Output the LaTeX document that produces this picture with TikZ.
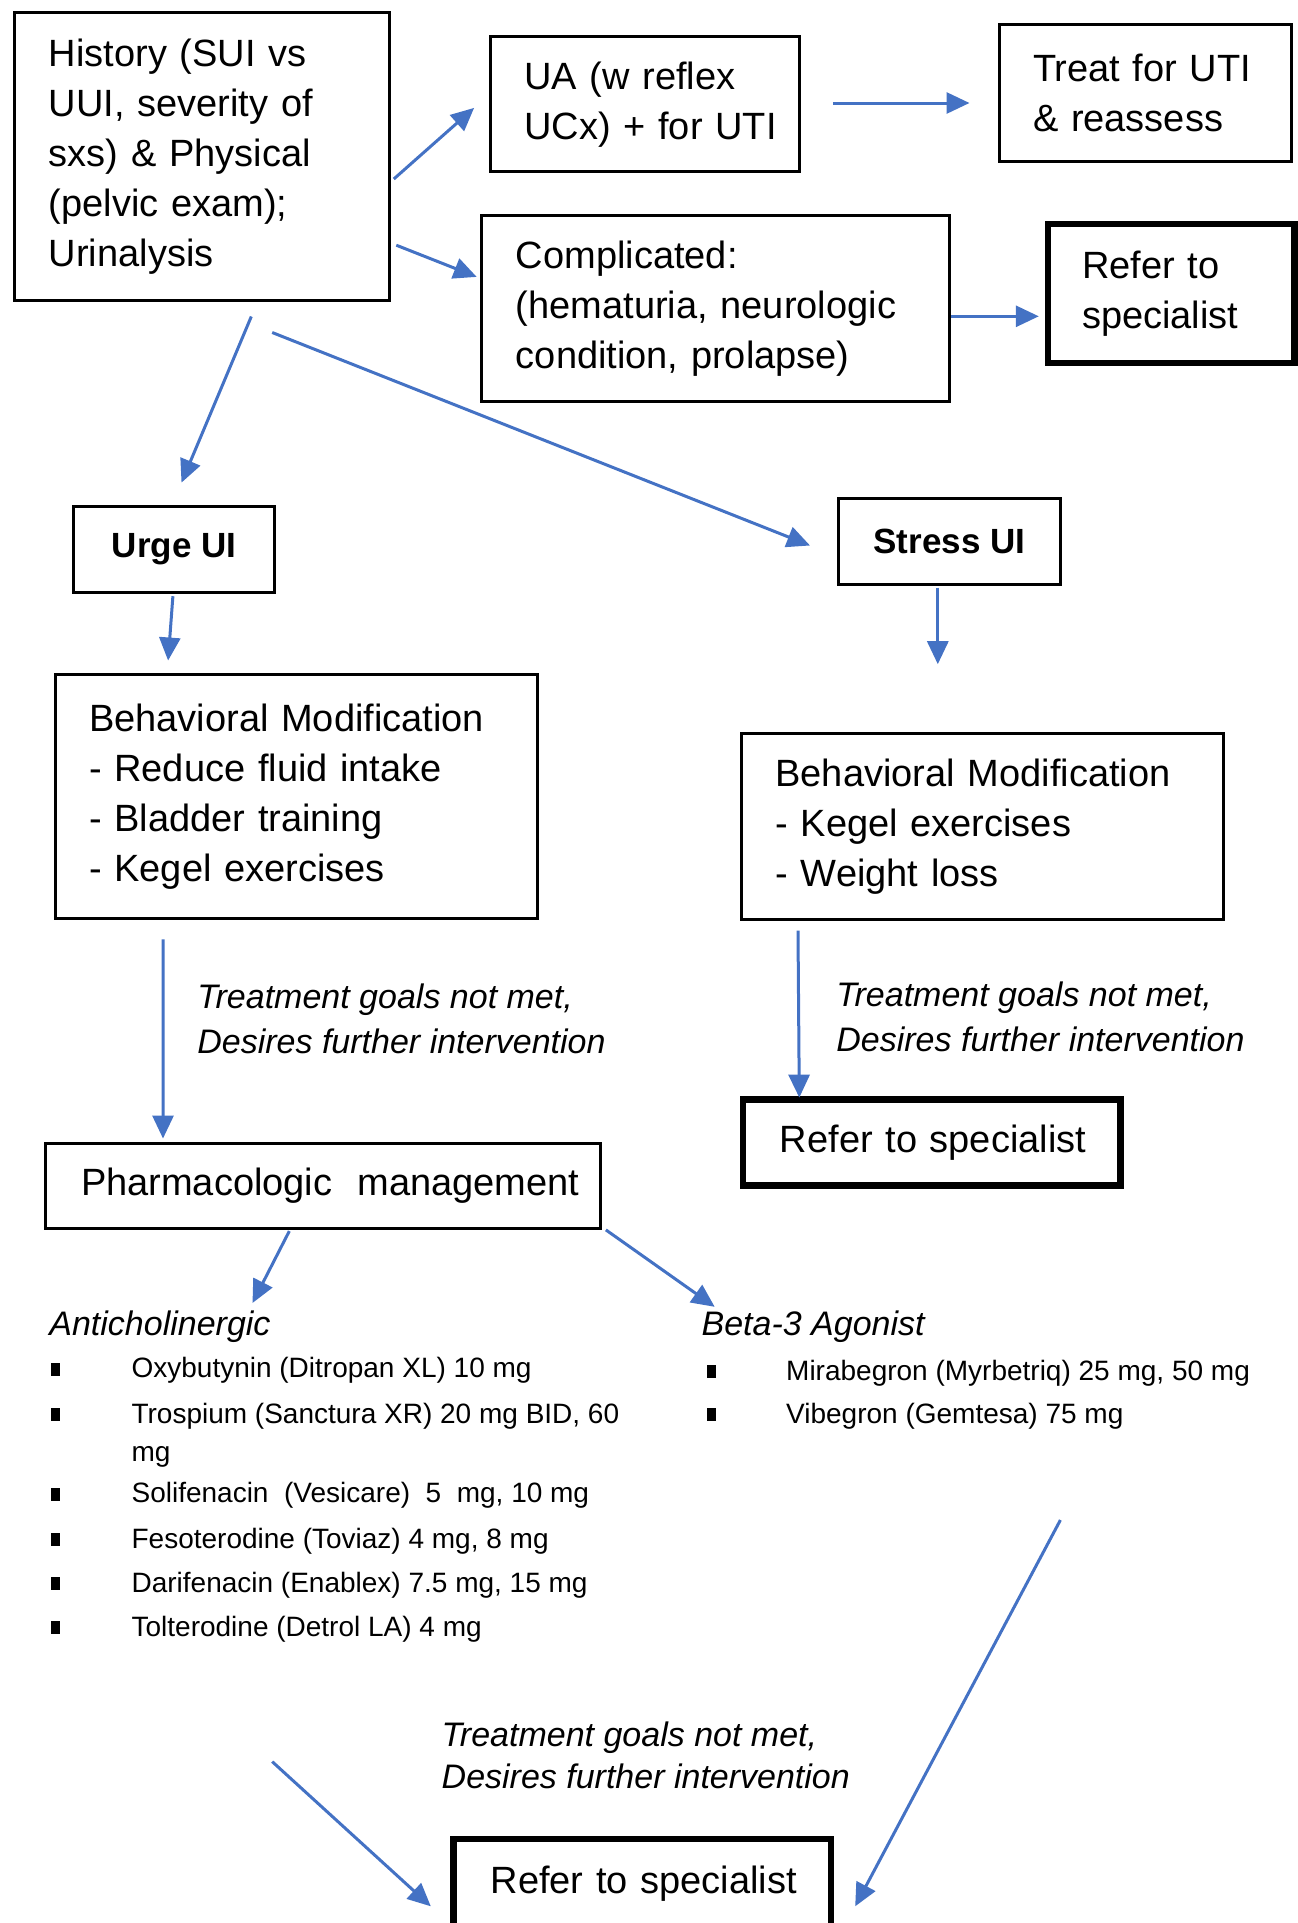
\documentclass[tikz,border=0pt]{standalone}
\usepackage{fontspec}
\setmainfont{Liberation Sans}
\usetikzlibrary{arrows.meta}
\definecolor{arrowblue}{RGB}{68,114,196}
\hyphenpenalty=10000
\exhyphenpenalty=10000
\hbadness=10000
\hfuzz=50pt
\begin{document}
\begin{tikzpicture}[x=0.5pt,y=-0.5pt,
  box/.style={draw, line width=1.5pt, rectangle, align=left, inner ysep=0pt, font=\fontsize{19}{25}\selectfont},
  thickbox/.style={box, line width=3.2pt},
  centerbox/.style={draw, line width=1.5pt, rectangle, align=center, inner sep=0pt, font=\fontsize{17.5}{21}\selectfont\bfseries},
  note/.style={align=left, anchor=west, inner sep=0pt, font=\fontsize{17}{22.5}\selectfont\itshape},
  head/.style={anchor=west, inner sep=0pt, font=\fontsize{17}{20}\selectfont\itshape},
  item/.style={anchor=west, inner sep=0pt, align=left, font=\fontsize{14}{19}\selectfont},
  bullet/.style={fill=black, minimum width=4.5pt, minimum height=6.5pt, inner sep=0pt},
  arr/.style={draw=arrowblue, line width=1.5pt, -{Triangle[length=11.5pt,width=10.5pt]}},
]
\useasboundingbox (0,0) rectangle (1297,1923);

% boxes
\node[box, minimum width=187.5pt, minimum height=144pt, inner xsep=17pt, text width=153.5pt] (hist) at (202.3,156.3)
  {History~(SUI~vs\\UUI,~severity~of\\sxs)~\&~Physical\\(pelvic~exam);\\Urinalysis};
\node[box, minimum width=154.5pt, minimum height=67.5pt, inner xsep=17pt, text width=120.5pt] (ua) at (644.9,104.2)
  {UA~(w~reflex\\UCx)~+~for~UTI};
\node[box, minimum width=146pt, minimum height=68.5pt, inner xsep=17pt, text width=112pt] (treat) at (1145,93.1)
  {Treat~for~UTI\\\&~reassess};
\node[box, minimum width=234pt, minimum height=93pt, inner xsep=17pt, text width=200pt] (comp) at (715.9,308.9)
  {Complicated:\\(hematuria,~neurologic\\condition,~prolapse)};
\node[thickbox, minimum width=123.3pt, minimum height=69.5pt, inner xsep=17pt, text width=89.3pt] (ref1) at (1171.3,293.5)
  {Refer~to\\specialist};
\node[centerbox, minimum width=100.5pt, minimum height=43pt] (urge) at (174.1,549.2) {Urge UI};
\node[centerbox, minimum width=111pt, minimum height=43pt] (stress) at (949.5,541.9) {Stress UI};
\node[box, minimum width=241pt, minimum height=122pt, inner xsep=17pt, text width=207pt] (bl) at (296.1,796.2)
  {Behavioral~Modification\\-~Reduce~fluid~intake\\-~Bladder~training\\-~Kegel~exercises};
\node[box, minimum width=241pt, minimum height=93.2pt, inner xsep=17pt, text width=207pt] (br) at (982.5,826.2)
  {Behavioral~Modification\\-~Kegel~exercises\\-~Weight~loss};
\node[thickbox, minimum width=188.8pt, minimum height=42.9pt, inner xsep=18.5pt, text width=151.8pt] (ref2) at (931.7,1142.5)
  {\mbox{Refer to specialist}};
\node[box, minimum width=277.7pt, minimum height=42.3pt, inner xsep=17.8pt, text width=242pt] (pharm) at (323,1186.1)
  {\mbox{Pharmacologic\ \ management}};
\node[thickbox, minimum width=188.8pt, minimum height=45pt, inner xsep=18.5pt, text width=151.8pt] (ref3) at (642.4,1884)
  {\mbox{Refer to specialist}};

% italic notes
\node[note] (lab1) at (197,1018.7) {Treatment goals not met,\\Desires further intervention};
\node[note] (lab2) at (836,1017) {Treatment goals not met,\\Desires further intervention};
\node[note, font=\fontsize{17}{21}\selectfont\itshape] (lab3) at (441.3,1755.5) {Treatment goals not met,\\Desires further intervention};

% drug lists
\node[head] (antic) at (49,1326.4) {Anticholinergic};
\node[head] (beta) at (701.2,1326.4) {Beta-3 Agonist};

\node[item] (i1) at (131.2,1370.6) {Oxybutynin (Ditropan XL) 10 mg};
\node[item] (i2) at (131.2,1435) {Trospium (Sanctura XR) 20 mg BID, 60\\mg};
\node[item] (i3) at (131.2,1495.6) {Solifenacin\ \ (Vesicare)\ \ 5\ \ mg, 10 mg};
\node[item] (i4) at (131.2,1541) {Fesoterodine (Toviaz) 4 mg, 8 mg};
\node[item] (i5) at (131.2,1585) {Darifenacin (Enablex) 7.5 mg, 15 mg};
\node[item] (i6) at (131.2,1629.2) {Tolterodine (Detrol LA) 4 mg};
\node[bullet] (bu1) at (55,1369) {};
\node[bullet] (bu2) at (55,1414.5) {};
\node[bullet] (bu3) at (55,1494) {};
\node[bullet] (bu4) at (55,1539.5) {};
\node[bullet] (bu5) at (55,1583.5) {};
\node[bullet] (bu6) at (55,1627.5) {};

\node[item] (b1) at (785.8,1373) {Mirabegron (Myrbetriq) 25 mg, 50 mg};
\node[item] (b2) at (785.8,1416) {Vibegron (Gemtesa) 75 mg};
\node[bullet] (bb1) at (711.6,1371.5) {};
\node[bullet] (bb2) at (711.6,1414.5) {};

\coordinate (c13) at (272.2,1761.6);
\coordinate (c14) at (1060.4,1520);

% connectors
\draw[arr] ([shift={(2.5,22.7)}]hist.east) -- ([shift={(-14.8,3.7)}]ua.west);
\draw[arr] ([shift={(32,-1.2)}]ua.east) -- ([shift={(-28,9.9)}]treat.west);
\draw[arr] ([shift={(5,88.9)}]hist.east) -- ([shift={(-3.7,-32)}]comp.west);
\draw[arr] ([shift={(0,7.4)}]comp.east) -- ([shift={(-6,22.8)}]ref1.west);
\draw[arr] ([shift={(49,14.7)}]hist.south) -- ([shift={(7.4,-22.1)}]urge.north);
\draw[arr] ([shift={(69.9,30.7)}]hist.south) -- ([shift={(-27,3.6)}]stress.west);
\draw[arr] ([shift={(-1.2,2.5)}]urge.south) -- ([shift={(-128,-12.2)}]bl.north);
\draw[arr] ([shift={(-11.7,1.2)}]stress.south) -- ([shift={(-44.7,-67.3)}]br.north);
\draw[arr] ([shift={(-133,19.6)}]bl.south) -- ([shift={(-160,-3.8)}]pharm.north);
\draw[arr] ([shift={(-184.5,9.6)}]br.south) -- ([shift={(-132.4,1.2)}]ref2.north);
\draw[arr] ([shift={(-33.7,1.2)}]pharm.south) -- ([shift={(203.5,-23.4)}]antic.west);
\draw[arr] ([shift={(3.7,0)}]pharm.south east) -- ([shift={(13.5,-19.6)}]beta.west);
\draw[arr] (c13) -- ([shift={(-19.6,22.3)}]ref3.west);
\draw[arr] (c14) -- ([shift={(20.8,22.3)}]ref3.east);
\end{tikzpicture}
\end{document}
